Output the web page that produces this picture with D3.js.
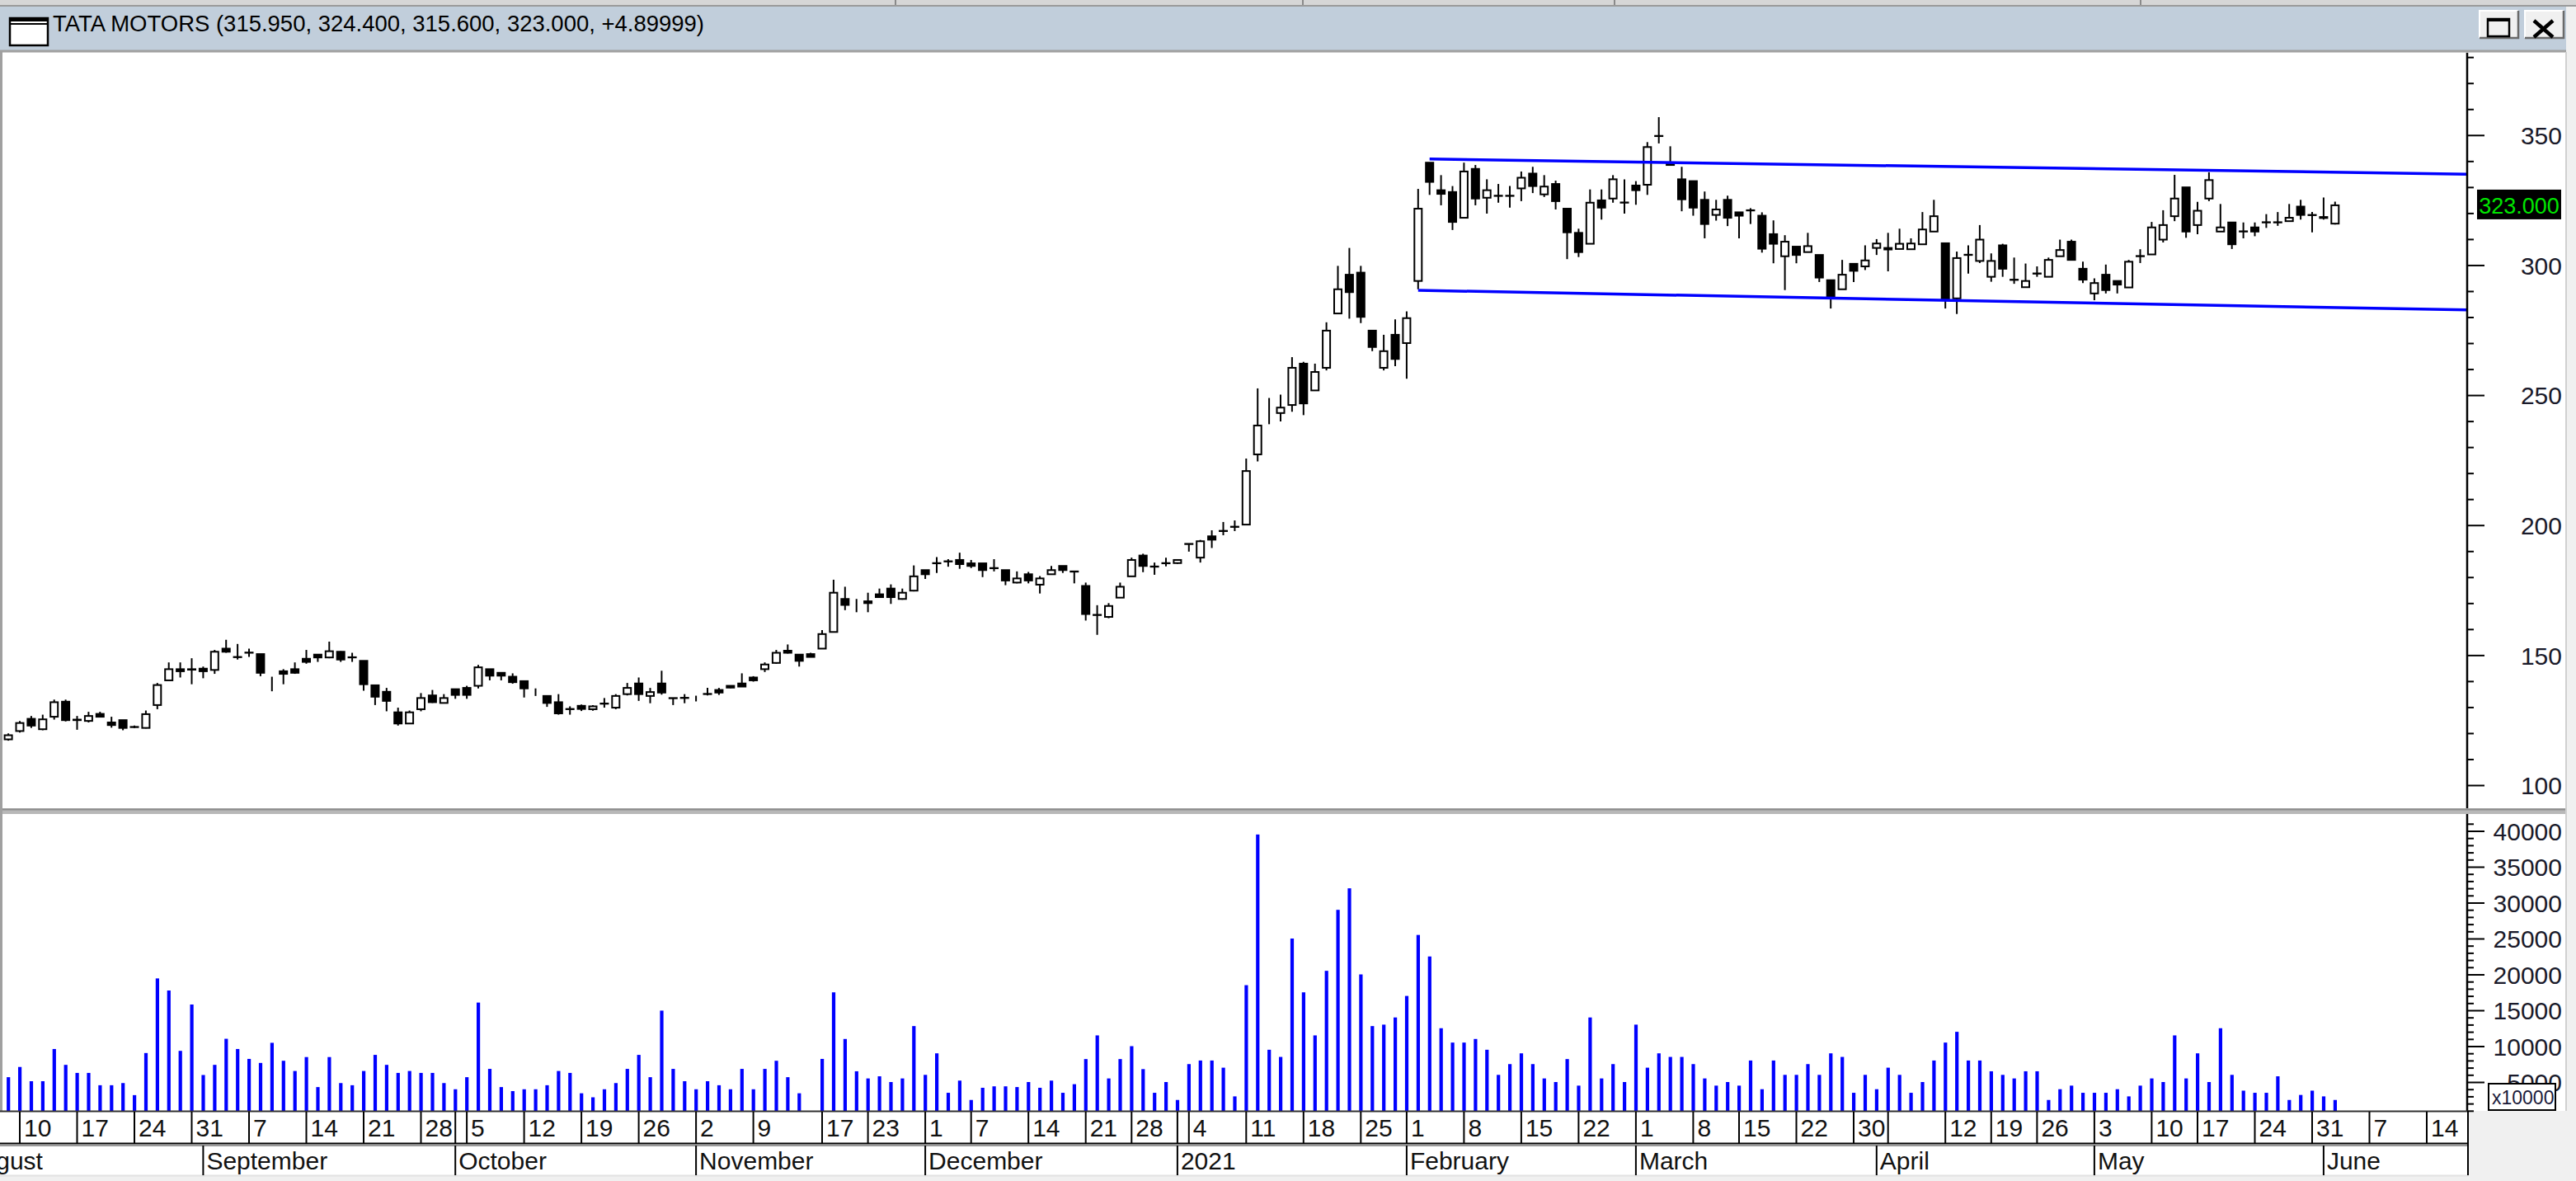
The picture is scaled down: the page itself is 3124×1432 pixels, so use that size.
<!DOCTYPE html>
<html><head><meta charset="utf-8">
<script src="https://cdn.jsdelivr.net/npm/d3@7"></script>
<style>
html,body{margin:0;padding:0;background:#f0f0f0;overflow:hidden}
svg{display:block}
text{font-family:"Liberation Sans",Arial,Helvetica,sans-serif}
</style></head><body>
<svg id="c" width="3124" height="1432"></svg>
<script>
// ---------------- DATA ----------------
const ticker = "TATA MOTORS";
const calendarStart = "2020-08-03";
const calendarEnd = "2021-06-18";
const firstBarDate = "2020-08-07";
const holidays = ["2020-10-02","2020-11-16","2020-11-30","2020-12-25","2021-01-26","2021-03-11","2021-03-29","2021-04-02","2021-04-14","2021-04-21","2021-05-13"];
const extraSessions = ["2020-11-14"];

const open = [117.6,120.8,125.5,121.5,126.3,132.1,125.0,124.7,127.4,124.1,125.0,122.4,122.0,130.8,140.3,144.6,144.4,144.8,144.3,152.5,
149.3,150.9,150.4,141.6,143.8,144.6,148.6,150.2,149.1,151.3,149.2,147.8,138.4,135.9,128.0,123.7,129.2,134.5,131.6,136.9,
137.4,138.2,144.6,143.2,141.7,140.0,135.8,134.3,131.9,129.3,130.5,129.2,131.3,129.8,135.0,139.1,134.3,139.1,133.5,133.5,
134.3,135.0,136.6,138.2,139.1,141.4,144.6,147.0,151.7,150.2,150.4,152.5,158.9,171.6,170.3,170.7,173.4,175.6,171.6,174.8,
182.7,185.3,186.1,186.6,185.3,185.3,183.4,182.7,177.9,181.1,177.1,181.1,184.3,182.2,176.6,165.4,164.7,172.1,180.3,188.3,
184.1,185.3,185.4,192.8,187.5,195.7,197.7,199.3,200.2,227.2,243.9,243.1,246.2,262.1,251.8,260.5,281.4,296.3,297.1,274.8,
260.5,273.2,270.0,293.9,339.4,328.8,328.1,318.2,337.0,325.9,326.7,326.6,329.5,335.2,327.2,331.2,321.7,312.4,308.2,324.9,
325.6,324.0,330.6,330.9,349.7,339.4,333.0,332.3,325.1,319.3,325.1,320.3,321.1,319.0,311.9,303.4,307.1,305.0,303.9,294.2,
290.7,300.5,299.5,306.6,306.6,306.2,306.1,308.0,312.9,308.4,287.2,303.9,301.6,295.5,307.6,294.4,291.5,296.7,295.5,303.4,
309.0,298.6,289.1,296.3,293.9,291.4,303.4,304.1,309.8,318.8,329.9,315.4,325.6,312.9,316.4,313.0,314.5,316.4,316.4,316.9,
322.5,319.3,318.5,315.95];
const high = [119.9,124.7,126.6,127.1,132.9,132.9,126.6,128.2,128.2,126.3,125.0,122.9,128.7,139.3,147.2,147.2,148.8,145.6,152.0,155.9,
154.3,152.5,150.4,141.7,144.6,147.2,152.0,150.2,155.2,151.5,150.9,147.8,138.4,137.4,129.8,128.7,135.4,136.6,135.0,136.9,
138.2,146.2,144.6,143.2,143.0,140.0,137.2,134.3,135.0,130.3,131.0,130.8,133.5,135.0,139.3,141.4,137.4,144.0,133.5,135.0,
134.4,137.4,137.4,138.3,143.0,141.9,147.2,152.0,154.1,150.2,150.9,159.6,179.0,176.3,171.6,174.0,175.6,177.2,175.6,184.5,
182.7,187.7,186.9,189.4,186.6,185.3,186.9,182.7,182.2,182.0,180.4,184.3,184.3,182.2,177.9,169.2,170.0,177.9,187.5,189.0,
185.6,187.5,186.7,192.8,194.3,198.0,201.2,201.8,225.6,252.6,248.9,250.2,264.6,262.8,262.1,278.0,299.7,306.6,299.7,274.8,
273.2,279.1,282.2,329.3,339.4,334.6,330.4,339.4,338.5,333.0,331.2,330.4,336.0,337.8,334.6,332.5,321.7,314.0,329.1,329.1,
334.6,333.0,332.3,347.3,356.9,345.7,337.8,332.3,328.3,325.1,326.7,320.3,321.9,320.3,317.2,311.5,307.1,312.4,303.9,294.2,
302.0,300.5,307.6,310.0,312.4,314.0,310.3,320.4,325.1,308.4,305.2,307.6,315.4,304.5,308.2,302.9,300.6,299.5,302.9,309.8,
309.8,301.3,294.9,300.2,293.9,302.0,306.1,316.6,321.1,334.7,329.9,324.3,335.7,323.5,316.4,316.4,316.4,319.6,320.4,323.5,
325.1,320.4,326.0,324.4];
const low = [117.1,120.2,122.0,121.1,125.2,124.5,121.3,124.1,126.1,122.1,121.1,122.0,121.8,129.2,140.3,141.4,138.8,141.1,142.8,150.9,
148.3,149.3,141.9,136.1,138.8,142.8,146.7,147.4,148.8,147.4,147.4,136.3,130.8,128.4,122.9,123.7,128.4,131.6,131.6,133.2,
133.2,137.2,140.3,140.3,139.0,133.7,134.3,130.1,127.1,127.1,128.5,128.6,129.8,129.2,134.5,132.4,131.5,134.8,130.8,131.5,
132.2,134.5,134.7,137.3,137.9,139.8,143.5,146.7,150.6,145.6,149.3,152.5,158.9,167.3,166.5,166.5,172.1,169.7,171.3,174.5,
179.3,181.6,184.0,183.2,183.5,180.0,182.2,176.9,177.6,177.6,173.7,180.9,181.6,177.6,163.3,157.8,164.2,172.1,180.3,181.9,
180.9,184.1,185.1,189.8,185.6,191.2,196.1,197.7,200.2,224.5,238.8,239.9,243.6,242.3,251.8,259.5,281.4,279.4,277.7,266.9,
259.5,261.1,256.3,290.7,327.0,323.0,313.5,318.2,323.0,319.8,324.0,322.1,324.6,327.7,326.2,321.4,302.3,303.1,308.2,317.5,
324.0,319.8,323.2,327.0,346.8,338.3,320.7,319.0,310.3,317.1,315.0,310.3,315.8,304.8,300.7,290.4,300.7,305.0,293.5,283.3,
290.7,293.5,298.1,303.9,297.6,306.1,305.9,308.0,312.9,283.3,281.2,296.7,300.8,293.6,295.5,292.8,291.5,295.5,295.5,303.4,
301.8,293.1,286.5,289.1,289.1,291.4,300.8,304.1,308.7,316.9,310.5,311.9,324.6,312.9,306.2,310.3,311.1,314.3,315.1,316.9,
317.5,312.6,317.5,315.6];
const close = [119.2,123.9,122.9,125.3,131.9,125.0,125.2,126.6,126.3,123.1,122.0,122.3,127.3,138.5,144.6,143.8,144.6,143.8,151.3,151.3,
149.2,151.0,143.2,141.6,142.8,143.2,147.4,149.1,151.5,148.3,149.1,138.8,134.0,132.4,123.7,128.0,133.5,131.9,133.5,134.7,
134.7,145.3,142.1,142.1,139.6,137.2,135.8,131.6,127.6,129.2,129.3,130.3,131.4,134.3,137.4,135.0,135.8,135.6,133.4,133.6,
134.3,135.1,135.6,137.5,137.9,140.3,146.4,150.9,150.9,147.8,149.3,158.1,174.0,169.3,170.3,170.0,172.3,172.3,174.0,180.3,
181.1,185.4,186.0,185.0,184.3,182.7,183.5,178.7,179.5,178.7,179.5,182.7,182.7,182.1,165.8,165.5,168.9,176.3,186.6,184.3,
184.0,185.4,186.6,192.7,193.8,194.4,197.8,199.4,220.8,238.3,243.9,245.2,260.5,246.8,258.9,274.8,290.7,289.6,280.1,268.5,
266.9,263.9,279.6,321.7,332.0,327.4,316.6,336.0,325.6,328.8,326.6,326.7,333.6,330.4,330.2,324.6,312.6,305.0,324.0,322.1,
333.0,324.1,328.8,345.4,349.6,338.5,325.3,322.1,315.8,321.4,318.2,319.0,321.0,306.3,308.2,309.0,303.9,307.3,295.2,288.0,
296.3,297.8,301.8,308.3,306.0,308.2,308.3,313.7,318.8,287.0,302.7,304.0,309.8,301.6,298.6,294.3,293.9,296.8,302.0,305.8,
302.0,294.4,293.1,290.4,292.5,301.3,303.5,314.5,315.4,325.6,312.9,320.9,332.7,314.5,308.0,312.9,312.9,316.5,316.5,318.2,
319.3,319.2,318.1,323.0];
const volume = [5676,7100,5115,5115,9603,7393,6271,6271,4555,4555,4857,3175,9042,19441,17758,9345,15806,5980,7393,11028,
9603,8223,7662,10467,7965,6540,8481,4297,8481,4857,4555,6540,8784,7393,6271,6540,6271,6271,4857,3994,
5676,16076,6832,4297,3736,3994,3994,4555,6540,6271,3433,2872,3994,4857,6832,8784,5676,14954,6832,5115,
3994,5115,4555,3994,6832,3994,6832,7965,5676,3433,600,8223,17500,11000,6500,5500,5800,5000,5500,12800,
6000,9000,3500,5200,2500,4200,4400,4400,4300,5000,4200,5200,3500,4700,8200,11500,5500,8200,10000,6800,
3500,5000,2500,7500,8000,8000,7000,3000,18500,39500,9500,8500,25000,17500,11500,20500,29000,32000,20000,12800,
13000,14000,17000,25500,22500,12500,10500,10500,11000,9500,6000,7500,9000,7500,5500,5000,8200,4500,14000,5500,
7500,5000,13000,7000,9000,8500,8500,7500,5500,4500,5000,4500,8000,4000,8000,6000,6000,7500,6000,9000,
8500,3500,6000,4000,7000,6000,3500,5000,8000,10500,12000,8000,8000,6500,6000,5500,6500,6500,2500,4000,
4500,3500,3500,3500,4000,3000,4500,5500,5000,11500,5500,9000,5000,12500,6000,3800,3500,3500,5800,2500,
3200,3800,3000,2500];

const priceMajorTicks = [100,150,200,250,300,350];
const volumeMajorTicks = [5000,10000,15000,20000,25000,30000,35000,40000];
const monthNames = ["2021","February","March","April","May","June","July","August","September","October","November","December"];
// trend channel: [startDate, startPrice, endDate, endPrice]
const upperLine = ["2021-02-03", 340.8, "2021-06-18", 334.95];
const lowerLine = ["2021-02-02", 290.3, "2021-06-18", 282.7];
const hiddenWeekLabels = ["2021-04-05"];
const extraWeekMarks = ["2020-10-01","2021-01-01"];

// ---------------- CALENDAR ----------------
const ymd = d => d.toISOString().slice(0,10);
const days = [];
for (let d = new Date(calendarStart+"T00:00:00Z"); d <= new Date(calendarEnd+"T00:00:00Z"); d.setUTCDate(d.getUTCDate()+1)) {
  const s = ymd(d), wd = d.getUTCDay();
  if ((wd>=1 && wd<=5 && !holidays.includes(s)) || extraSessions.includes(s)) days.push(s);
}
const offset = days.indexOf(firstBarDate);
const idx = s => days.indexOf(s) - offset;
const mondayKey = s => { const d = new Date(s+"T00:00:00Z"); d.setUTCDate(d.getUTCDate()-((d.getUTCDay()+6)%7)); return ymd(d); };

const bars = open.map((o,i)=>({i, o, h:high[i], l:low[i], c:close[i], v:volume[i]}));

// ---------------- LAYOUT ----------------
const W=3124, H=1432, axisX=2992;
const pTop=65, pBot=980, vTop=987, vBot=1347;
const svg = d3.select("#c");
const x = d3.scaleLinear().domain([0,1]).range([10.1,24.0]);
const yP = d3.scaleLinear().domain([100,350]).range([952,163.8]);
const yV = d3.scaleLinear().domain([0,40000]).range([1355.5,1007.5]);

// window chrome
svg.append("rect").attr("width",W).attr("height",H).attr("fill","#f0f0f0");
svg.append("rect").attr("x",0).attr("y",0).attr("width",W).attr("height",8).attr("fill","#d6d6d6");
[1086,1580,1958,2596].forEach(px=>svg.append("line").attr("x1",px).attr("x2",px).attr("y1",0).attr("y2",7).attr("stroke","#8a8a8a").attr("stroke-width",2));
svg.append("line").attr("x1",0).attr("x2",W).attr("y1",7).attr("y2",7).attr("stroke","#9a9a9a").attr("stroke-width",2);
svg.append("rect").attr("x",0).attr("y",8).attr("width",3112).attr("height",53).attr("fill","#c1cedb");
svg.append("line").attr("x1",0).attr("x2",3112).attr("y1",62).attr("y2",62).attr("stroke","#a0a0a0").attr("stroke-width",3);
// icon
svg.append("rect").attr("x",12).attr("y",22).attr("width",46).attr("height",33).attr("fill","#fff").attr("stroke","#000").attr("stroke-width",2.5);
svg.append("rect").attr("x",12).attr("y",22).attr("width",46).attr("height",4).attr("fill","#000");
svg.append("line").attr("x1",12).attr("x2",58).attr("y1",29).attr("y2",29).attr("stroke","#000").attr("stroke-width",2);
// title
const last = bars[bars.length-1], prev = bars[bars.length-2];
const chg = Math.floor((last.c - prev.c)*1e5)/1e5;
const f3 = d3.format(".3f");
svg.append("text").attr("x",64).attr("y",38).attr("font-size",27).attr("fill","#000")
  .attr("textLength",790).attr("lengthAdjust","spacingAndGlyphs")
  .text(`${ticker} (${f3(last.o)}, ${f3(last.h)}, ${f3(last.l)}, ${f3(last.c)}, ${chg>=0?"+":""}${chg})`);
// buttons
function button(bx){
  svg.append("rect").attr("x",bx).attr("y",13).attr("width",47).attr("height",33).attr("fill","#f0f0f0");
  svg.append("path").attr("d",`M${bx},${46}V13H${bx+47}`).attr("fill","none").attr("stroke","#fff").attr("stroke-width",2);
  svg.append("path").attr("d",`M${bx+47},13V46H${bx}`).attr("fill","none").attr("stroke","#6a6a6a").attr("stroke-width",2.5);
}
button(3007); button(3062);
svg.append("rect").attr("x",3017).attr("y",23).attr("width",26).attr("height",21).attr("fill","none").attr("stroke","#000").attr("stroke-width",2.5);
svg.append("rect").attr("x",3017).attr("y",22).attr("width",26).attr("height",4).attr("fill","#000");
svg.append("path").attr("d","M3073,25L3096,45M3096,25L3073,45").attr("stroke","#000").attr("stroke-width",4.5);

// panels
svg.append("rect").attr("x",0).attr("y",64).attr("width",3112).attr("height",vBot-64).attr("fill","#fff");
svg.append("rect").attr("x",0).attr("y",980).attr("width",3112).attr("height",7).attr("fill","#b8b8b8");
svg.append("line").attr("x1",0).attr("x2",3112).attr("y1",981.5).attr("y2",981.5).attr("stroke","#8c8c8c").attr("stroke-width",2);
svg.append("line").attr("x1",1.5).attr("x2",1.5).attr("y1",63).attr("y2",vBot).attr("stroke","#a0a0a0").attr("stroke-width",3);
svg.append("line").attr("x1",3112).attr("x2",3112).attr("y1",63).attr("y2",vBot).attr("stroke","#d0d0d0").attr("stroke-width",2);

// clip paths
const defs = svg.append("defs");
defs.append("clipPath").attr("id","cp").append("rect").attr("x",3).attr("y",pTop).attr("width",axisX-3).attr("height",pBot-pTop);
defs.append("clipPath").attr("id","cv").append("rect").attr("x",3).attr("y",vTop).attr("width",axisX-3).attr("height",vBot-vTop);
defs.append("clipPath").attr("id","cd").append("rect").attr("x",3).attr("y",1347).attr("width",axisX-3).attr("height",80);

// candles
const gC = svg.append("g").attr("clip-path","url(#cp)");
const cg = gC.selectAll("g.c").data(bars).join("g").attr("class","c");
cg.append("line").attr("x1",d=>x(d.i)).attr("x2",d=>x(d.i)).attr("y1",d=>yP(d.h)).attr("y2",d=>yP(d.l))
  .attr("stroke","#000").attr("stroke-width",2);
cg.append("rect").attr("x",d=>x(d.i)-4.5).attr("width",9)
  .attr("y",d=>yP(Math.max(d.o,d.c))).attr("height",d=>Math.abs(yP(d.o)-yP(d.c)))
  .attr("fill",d=>d.c>=d.o?"#fff":"#000").attr("stroke","#000").attr("stroke-width",2);

// trend channel
const line = d3.line().x(d=>x(d[0])).y(d=>yP(d[1]));
[upperLine, lowerLine].forEach(t=>{
  gC.append("path").attr("d",line([[idx(t[0]),t[1]],[idx(t[2]),t[3]]]))
    .attr("stroke","#0000ff").attr("stroke-width",3.5).attr("fill","none");
});

// volume bars
svg.append("g").attr("clip-path","url(#cv)").selectAll("rect").data(bars).join("rect")
  .attr("x",d=>x(d.i)-2).attr("width",4.2).attr("y",d=>yV(d.v)).attr("height",d=>yV(0)-yV(d.v)).attr("fill","#0000ff");

// axes lines
svg.append("line").attr("x1",axisX).attr("x2",axisX).attr("y1",pTop-1).attr("y2",pBot).attr("stroke","#000").attr("stroke-width",2.5);
svg.append("line").attr("x1",axisX).attr("x2",axisX).attr("y1",vTop).attr("y2",vBot).attr("stroke","#000").attr("stroke-width",2.5);

function styleAxis(g, labelX){
  g.select(".domain").remove();
  g.selectAll(".tick line").attr("stroke","#000").attr("stroke-width",2);
  g.selectAll("text").attr("x",labelX).attr("text-anchor","end").attr("fill","#1a1a2a")
    .attr("font-size",30).attr("font-family","'Liberation Sans',Arial,sans-serif").attr("dy","0.36em");
}
const priceMinor = d3.range(110, 381, 10).filter(v=>v%50!==0);
svg.append("g").attr("transform",`translate(${axisX},0)`)
  .call(d3.axisRight(yP).tickValues(priceMinor).tickSize(8).tickFormat(""))
  .call(g=>styleAxis(g,0));
svg.append("g").attr("transform",`translate(${axisX},0)`)
  .call(d3.axisRight(yP).tickValues(priceMajorTicks).tickSize(21).tickFormat(d3.format("d")))
  .call(g=>styleAxis(g,115));
const volMinor = d3.range(1000, 41001, 1000).filter(v=>v%5000!==0);
svg.append("g").attr("transform",`translate(${axisX},0)`)
  .call(d3.axisRight(yV).tickValues(volMinor.filter(v=>yV(v)>vTop && yV(v)<vBot)).tickSize(8).tickFormat(""))
  .call(g=>styleAxis(g,0));
svg.append("g").attr("transform",`translate(${axisX},0)`)
  .call(d3.axisRight(yV).tickValues(volumeMajorTicks).tickSize(21).tickFormat(d3.format("d")))
  .call(g=>styleAxis(g,115));

// last price label
const ly = yP(last.c);
svg.append("rect").attr("x",3004).attr("y",ly-19).attr("width",102).attr("height",36).attr("fill","#000");
svg.append("text").attr("x",3055).attr("y",ly).attr("dy","0.36em").attr("text-anchor","middle")
  .attr("font-size",27).attr("fill","#00e600").text(f3(last.c));

// x10000 box
svg.append("rect").attr("x",3018).attr("y",1314).attr("width",81).attr("height",32).attr("fill","#fff").attr("stroke","#000").attr("stroke-width",2);
svg.append("text").attr("x",3022).attr("y",1339).attr("font-size",23).attr("fill","#1a1a3a").text("x10000");

// date axis
svg.append("rect").attr("x",0).attr("y",1347).attr("width",axisX+2).attr("height",78).attr("fill","#fff");
svg.append("line").attr("x1",0).attr("x2",axisX+2).attr("y1",1347.5).attr("y2",1347.5).attr("stroke","#303030").attr("stroke-width",2);
svg.append("line").attr("x1",0).attr("x2",axisX+2).attr("y1",1386.5).attr("y2",1386.5).attr("stroke","#000").attr("stroke-width",2);
svg.append("line").attr("x1",0).attr("x2",axisX+2).attr("y1",1389).attr("y2",1389).attr("stroke","#9a9a9a").attr("stroke-width",2);
svg.append("line").attr("x1",0).attr("x2",axisX+2).attr("y1",1425.5).attr("y2",1425.5).attr("stroke","#e2e2e2").attr("stroke-width",2);
svg.append("line").attr("x1",axisX+1).attr("x2",axisX+1).attr("y1",1347).attr("y2",1425).attr("stroke","#000").attr("stroke-width",2);

const weekTicks = [], monthTicks = [];
days.forEach((s,k)=>{
  if (k===0 || mondayKey(s)!==mondayKey(days[k-1])) weekTicks.push({s, label: hiddenWeekLabels.includes(s) ? "" : String(+s.slice(8,10))});
  if (k===0 || s.slice(0,7)!==days[k-1].slice(0,7)) monthTicks.push({s, label: monthNames[(+s.slice(5,7))-1]});
});
extraWeekMarks.forEach(s=>weekTicks.push({s,label:""}));
const weekLabels = weekTicks.filter(d=>d.label && x(idx(d.s))>0);

const gD = svg.append("g").attr("clip-path","url(#cd)");
gD.selectAll("line.w").data(weekTicks).join("line").attr("class","w")
  .attr("x1",d=>x(idx(d.s))).attr("x2",d=>x(idx(d.s))).attr("y1",1348).attr("y2",1386).attr("stroke","#000").attr("stroke-width",2);
gD.selectAll("text.w").data(weekLabels).join("text").attr("class","w")
  .attr("x",d=>x(idx(d.s))+5).attr("y",1378).attr("font-size",30).attr("fill","#111").text(d=>d.label);
gD.selectAll("line.m").data(monthTicks).join("line").attr("class","m")
  .attr("x1",d=>x(idx(d.s))).attr("x2",d=>x(idx(d.s))).attr("y1",1389).attr("y2",1425).attr("stroke","#000").attr("stroke-width",2);
svg.append("g").selectAll("text.m").data(monthTicks).join("text").attr("class","m")
  .attr("x",d=>x(idx(d.s))+4).attr("y",1418).attr("font-size",30).attr("fill","#111").text(d=>d.label);
</script>
</body></html>
